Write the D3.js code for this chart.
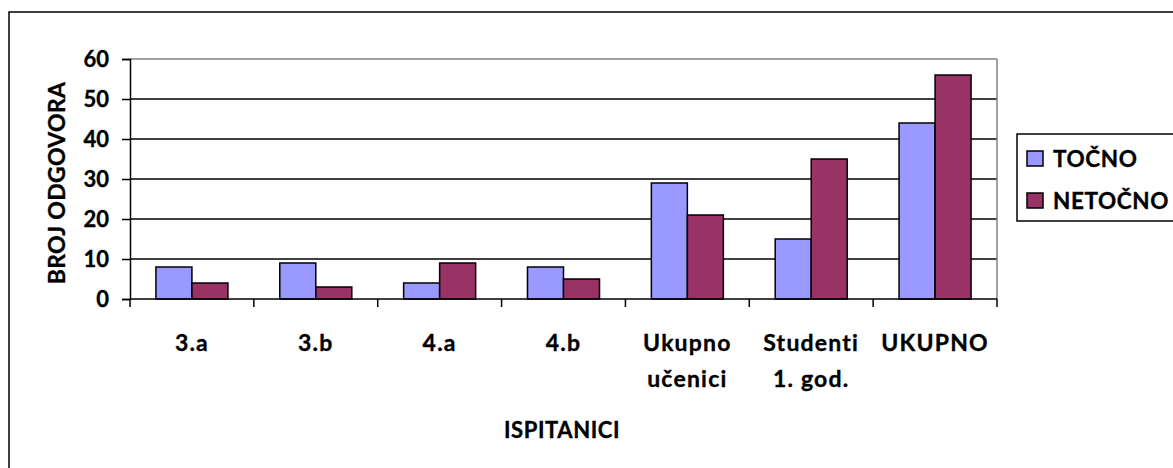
<!DOCTYPE html>
<html>
<head>
<meta charset="utf-8">
<script src="https://cdn.jsdelivr.net/npm/d3@7"></script>
<style>
  html, body { margin: 0; padding: 0; background: #fff; }
  svg { display: block; }
  text { font-family: Lato, "Open Sans", sans-serif; font-weight: bold; fill: #000; stroke: #000; stroke-width: 0.35px; }
</style>
</head>
<body>
<svg id="chart" width="1173" height="468"></svg>
<script>
// Respondent groups (each label may wrap onto two lines)
const categories = [
  ["3.a"], ["3.b"], ["4.a"], ["4.b"],
  ["Ukupno", "učenici"], ["Studenti", "1. god."], ["UKUPNO"]
];
const seriesNames = ["TOČNO", "NETOČNO"];
const tocno   = [8, 9, 4, 8, 29, 15, 44];
const netocno = [4, 3, 9, 5, 21, 35, 56];
const yTicks  = [0, 10, 20, 30, 40, 50, 60];
const colors  = ["#9999FF", "#993366"];

const svg = d3.select("#chart");
const plot = { left: 130, right: 997, top: 59, bottom: 299 };

// Outer chart frame (extends past the right and bottom edges)
svg.append("rect")
  .attr("x", 9).attr("y", 12)
  .attr("width", 1200).attr("height", 500)
  .attr("fill", "none").attr("stroke", "#000").attr("stroke-width", 1.5);

const keys = categories.map(c => c.join(" "));
const x = d3.scaleBand().domain(keys).range([plot.left, plot.right]).paddingInner(0).paddingOuter(0);
const x1 = d3.scaleBand().domain(seriesNames).range([0, x.bandwidth()])
  .paddingInner(0).paddingOuter(0.72);
const y = d3.scaleLinear().domain([0, 60]).range([plot.bottom, plot.top]);

// Horizontal gridlines
svg.append("g").selectAll("line").data(yTicks.filter(t => t > 0)).join("line")
  .attr("x1", plot.left).attr("x2", plot.right)
  .attr("y1", d => y(d)).attr("y2", d => y(d))
  .attr("stroke", d => d === 60 ? "#808080" : "#000").attr("stroke-width", 1.5);

// Plot area right border
svg.append("line")
  .attr("x1", plot.right).attr("x2", plot.right)
  .attr("y1", plot.top).attr("y2", plot.bottom)
  .attr("stroke", "#808080").attr("stroke-width", 1.5);

// Bars
const data = categories.map((c, i) => ({ key: keys[i], values: [tocno[i], netocno[i]] }));
const groups = svg.append("g").selectAll("g").data(data).join("g")
  .attr("transform", d => `translate(${x(d.key)},0)`);
groups.selectAll("rect").data(d => d.values.map((v, j) => ({ name: seriesNames[j], v, j }))).join("rect")
  .attr("x", d => x1(d.name))
  .attr("width", x1.bandwidth())
  .attr("y", d => y(d.v))
  .attr("height", d => y(0) - y(d.v))
  .attr("fill", d => colors[d.j])
  .attr("stroke", "#000").attr("stroke-width", 1.5);

// Y axis
const yAxis = d3.axisLeft(y).tickValues(yTicks).tickSize(8).tickPadding(13);
const gy = svg.append("g").attr("transform", `translate(${plot.left},0)`).call(yAxis);
gy.select(".domain").attr("stroke", "#000").attr("stroke-width", 1.5);
gy.selectAll(".tick line").attr("stroke", "#000").attr("stroke-width", 1.5);
gy.selectAll(".tick text").style("font-size", "22px").style("font-family", "Lato, sans-serif")
  .style("font-weight", "bold").attr("fill", "#000").attr("dy", "0.36em");

// X axis: baseline and tick marks at category boundaries
const gx = svg.append("g");
gx.append("line").attr("x1", plot.left).attr("x2", plot.right)
  .attr("y1", plot.bottom).attr("y2", plot.bottom)
  .attr("stroke", "#000").attr("stroke-width", 1.5);
const boundaries = keys.map(k => x(k)).concat([x(keys[keys.length - 1]) + x.bandwidth()]);
gx.selectAll("line.tk").data(boundaries).join("line").attr("class", "tk")
  .attr("x1", d => d).attr("x2", d => d)
  .attr("y1", plot.bottom).attr("y2", plot.bottom + 8)
  .attr("stroke", "#000").attr("stroke-width", 1.5);

// Category labels
const labels = svg.append("g").selectAll("text").data(categories).join("text")
  .attr("x", (d, i) => x(keys[i]) + x.bandwidth() / 2)
  .attr("y", 351)
  .attr("text-anchor", "middle")
  .style("font-size", "23px")
  .style("letter-spacing", "1.2px");
labels.selectAll("tspan").data(d => d).join("tspan")
  .attr("x", function () { return d3.select(this.parentNode).attr("x"); })
  .attr("dy", (d, i) => i === 0 ? 0 : 36)
  .text(d => d);

// Axis titles
svg.append("text")
  .attr("transform", `translate(65,183) rotate(-90)`)
  .attr("text-anchor", "middle")
  .style("font-size", "23px")
  .style("letter-spacing", "0.3px")
  .text("BROJ ODGOVORA");

svg.append("text")
  .attr("x", 562).attr("y", 438)
  .attr("text-anchor", "middle")
  .style("font-size", "22px")
  .style("letter-spacing", "0.6px")
  .text("ISPITANICI");

// Legend
const legend = svg.append("g");
legend.append("rect")
  .attr("x", 1017).attr("y", 134).attr("width", 200).attr("height", 87)
  .attr("fill", "#fff").attr("stroke", "#000").attr("stroke-width", 1.5);
const items = legend.selectAll("g.item").data(seriesNames).join("g").attr("class", "item")
  .attr("transform", (d, i) => `translate(1027,${151 + i * 42})`);
items.append("rect").attr("width", 16).attr("height", 15)
  .attr("fill", (d, i) => colors[i]).attr("stroke", "#000").attr("stroke-width", 1.5);
items.append("text").attr("x", 26).attr("y", 16)
  .style("font-size", "22.5px").style("letter-spacing", "0.6px").text(d => d);
</script>
</body>
</html>
